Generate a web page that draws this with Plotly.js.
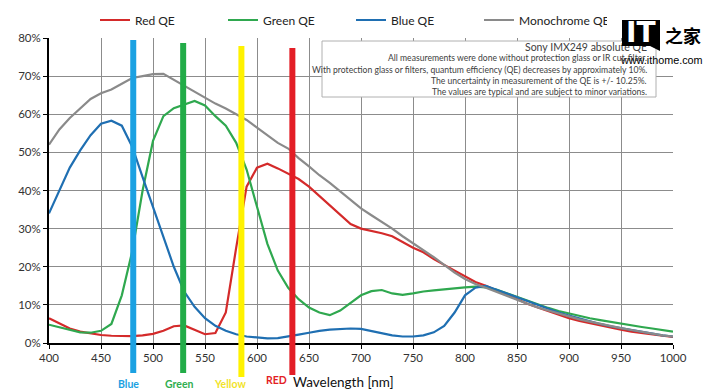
<!DOCTYPE html>
<html><head><meta charset="utf-8">
<script src="https://cdn.plot.ly/plotly-3.0.1.min.js"></script>
<style>html,body{margin:0;padding:0;background:#fff}#chart{width:727px;height:392px}</style>
</head><body><div id="chart"></div>
<script>
// ---- data ----
const wavelength = [400,410,420,430,440,450,460,470,480,490,500,510,520,530,540,550,560,570,580,590,600,610,620,630,640,650,660,670,680,690,700,710,720,730,740,750,760,770,780,790,800,810,820,830,840,850,860,870,880,890,900,910,920,930,940,950,960,970,980,990,1000];
const redQE = [6.5,5.2,3.8,3.0,2.5,2.1,1.9,1.8,1.8,2.0,2.4,3.2,4.4,4.6,3.5,2.3,2.6,8.0,25.0,41.0,46.0,47.0,45.8,44.5,43.0,41.0,38.5,36.0,33.5,31.2,30.0,29.4,28.8,28.0,26.5,25.0,23.8,22.0,20.5,19.0,17.5,16.0,15.0,13.8,12.5,11.3,10.3,9.3,8.3,7.4,6.5,5.8,5.2,4.6,4.0,3.5,3.0,2.6,2.2,1.9,1.6];
const greenQE = [4.8,4.2,3.5,2.8,2.7,3.2,5.0,12.5,24.0,40.0,53.0,59.5,61.6,62.5,63.5,62.3,59.5,57.0,52.5,45.5,36.0,26.0,19.0,14.5,11.5,9.3,8.0,7.3,8.5,10.6,12.5,13.6,13.9,13.0,12.6,13.0,13.5,13.8,14.1,14.4,14.6,14.8,14.6,14.0,13.0,12.0,11.0,10.0,9.2,8.4,7.7,7.1,6.5,6.0,5.5,5.1,4.6,4.2,3.8,3.4,3.0];
const blueQE = [34.0,40.0,46.0,50.5,54.5,57.5,58.3,57.0,51.5,43.5,35.8,28.0,20.0,13.5,9.5,6.5,4.5,3.2,2.3,1.7,1.4,1.2,1.3,1.7,2.2,2.7,3.2,3.5,3.7,3.8,3.7,3.2,2.5,2.0,1.7,1.7,2.0,2.8,4.5,8.0,12.5,14.5,15.0,14.0,13.2,12.0,11.0,10.0,9.0,8.0,7.2,6.4,5.7,5.0,4.4,3.9,3.4,2.9,2.4,2.0,1.7];
const monoQE = [52.0,56.0,59.0,61.5,64.0,65.5,66.5,68.0,69.5,70.0,70.5,70.6,69.0,67.5,66.0,64.2,62.8,61.5,60.0,58.5,56.5,54.5,52.5,51.0,48.5,46.3,44.0,42.0,39.7,37.5,35.3,33.5,31.8,30.0,28.0,26.2,24.5,22.5,20.5,18.5,16.8,15.5,14.5,13.4,12.3,11.3,10.3,9.3,8.5,7.6,6.8,6.2,5.6,5.0,4.4,3.9,3.4,2.9,2.4,2.0,1.7];
const seriesNames = ["Red QE","Green QE","Blue QE","Monochrome QE"];
const xTicks = [400,450,500,550,600,650,700,750,800,850,900,950,1000];
const yTicks = [0,10,20,30,40,50,60,70,80];
const yTickLabels = ["0%","10%","20%","30%","40%","50%","60%","70%","80%"];
const markerWavelengths = [481,529,585,634];
const markerLabels = ["Blue","Green","Yellow","RED"];
const noteLines = [
  "Sony IMX249 absolute QE",
  "All measurements were done without protection glass or IR cut-filter.",
  "With protection glass or filters, quantum efficiency (QE) decreases by approximately 10%.",
  "The uncertainty in measurement of the QE is +/- 10.25%.",
  "The values are typical and are subject to minor variations."
];

// ---- layout helpers ----
const L=49,R=673,T=38,B=343;
const fx = p => (p-L)/(R-L);
const fy = p => (B-p)/(B-T);
const FONT = "Lato, 'Liberation Sans', Arial, sans-serif";

const lineColors = ["#d42a2a","#2fa84f","#1f6fb2","#8a8a8a"];
const seriesVals = [redQE, greenQE, blueQE, monoQE];
const traces = seriesVals.map((v,i)=>({
  x: wavelength, y: v, name: seriesNames[i], type:'scatter', mode:'lines',
  line:{color:lineColors[i], width:2.2}
}));

const markerColors = ["#1ba1e2","#22ac48","#fff200","#e31e26"];
const labelColors = ["#1ba1e2","#2fae4f","#f2e32a","#e31e26"];
const barTop = [40,43,46,48], barBottom = [373,373,377,375];
const labelShift = [-5,-3.5,-11,-16], labelY = [384,384,384,380];

const shapes = [];
const annotations = [];
const C = {xanchor:'center', yanchor:'middle', showarrow:false};
markerWavelengths.forEach((w,i)=>{
  shapes.push({type:'line', xref:'x', yref:'paper', x0:w, x1:w, y0:fy(barBottom[i]), y1:fy(barTop[i]),
    line:{color:markerColors[i], width:6}, layer:'above'});
  annotations.push({...C, xref:'x', yref:'paper', x:w, y:fy(labelY[i]), xshift:labelShift[i], text:'<b>'+markerLabels[i]+'</b>',
    font:{family:FONT, size:10.5, color:labelColors[i]}});
});

// info box
shapes.push({type:'rect', xref:'paper', yref:'paper', x0:fx(322), x1:fx(656), y0:fy(97), y1:fy(41),
  fillcolor:'#ffffff', line:{color:'#b0b0b0', width:1}, layer:'above'});
const noteY = [47,58,70,81,92];
noteLines.forEach((t,i)=>{
  annotations.push({xref:'paper', yref:'paper', x:fx(649), y:fy(noteY[i]), xanchor:'right', yanchor:'middle',
    text:t, showarrow:false, font:{family:FONT, size: i===0?10.5:8.6, color:'#404040'}});
});

// x-axis title
annotations.push({...C, xref:'paper', yref:'paper', x:fx(343), y:fy(382), text:'Wavelength [nm]',
  font:{family:FONT, size:13.5, color:'#111'}});

// watermark logo
shapes.push({type:'path', xref:'paper', yref:'paper',
  path:`M ${fx(648)} ${fy(45)} L ${fx(660)} ${fy(51)} L ${fx(660)} ${fy(45)} Z`, fillcolor:'#000', line:{width:0}, layer:'above'});
annotations.push({...C, xref:'paper', yref:'paper', x:fx(641), y:fy(33.5), text:' ',
  width:38, height:26, bgcolor:'#000000', borderpad:0, borderwidth:0, font:{size:10}});
annotations.push({...C, xref:'paper', yref:'paper', x:fx(641), y:fy(33), text:'<b>IT</b>',
  font:{family:"'DejaVu Sans', sans-serif", size:28, color:'#ffffff'}});
annotations.push({...C, xref:'paper', yref:'paper', x:fx(683), y:fy(35), text:'<b>之家</b>',
  font:{family:"'Noto Sans CJK SC', sans-serif", size:18, color:'#000'}});
annotations.push({...C, xref:'paper', yref:'paper', x:fx(661), y:fy(60), text:'www.ithome.com',
  font:{family:"'Liberation Sans', Arial, sans-serif", size:10.8, color:'#000'}});

const layout = {
  width:727, height:392,
  margin:{l:L, r:727-R, t:T, b:392-B, autoexpand:false},
  paper_bgcolor:'#fff', plot_bgcolor:'#fff',
  font:{family:FONT, size:11.5, color:'#333'},
  showlegend:true,
  legend:{orientation:'h', x:fx(95), y:fy(20), xanchor:'left', yanchor:'middle', entrywidth:83,
    itemwidth:30, font:{family:FONT, size:12, color:'#222'}, bgcolor:'rgba(0,0,0,0)'},
  xaxis:{range:[400,1000], tickvals:xTicks, ticktext:xTicks.map(String), showgrid:true, gridcolor:'#8c8c8c', gridwidth:1,
    showline:true, linecolor:'#000', linewidth:1.5, ticks:'outside', ticklen:4, tickcolor:'#000', zeroline:false,
    automargin:false, fixedrange:true},
  yaxis:{range:[0,80], tickvals:yTicks, ticktext:yTickLabels, showgrid:true, gridcolor:'#8c8c8c', gridwidth:1,
    showline:true, linecolor:'#000', linewidth:2, ticks:'outside', ticklen:4, tickcolor:'#000', zeroline:false,
    automargin:false},
  shapes: shapes,
  annotations: annotations
};
Plotly.newPlot('chart', traces, layout, {displayModeBar:false, staticPlot:true});
</script></body></html>
